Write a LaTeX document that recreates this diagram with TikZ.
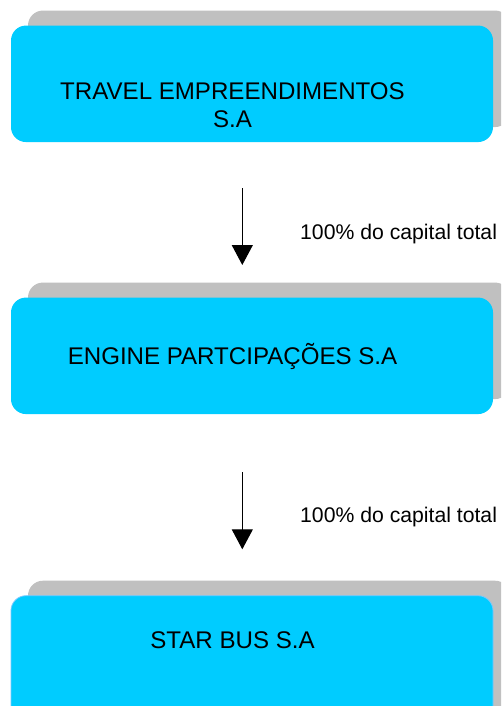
\documentclass[tikz,border=0pt]{standalone}
\usepackage{fontspec}
\setmainfont{Liberation Sans}
\usetikzlibrary{arrows.meta,shadows}
\definecolor{boxfill}{RGB}{0,204,255}
\definecolor{shadowgray}{RGB}{192,192,192}
\definecolor{boxedge}{RGB}{120,200,255}
\begin{document}
\begin{tikzpicture}[x=1pt,y=-1pt,
  company/.style={rectangle, rounded corners=15pt, fill=boxfill,
    minimum width=482pt, minimum height=116.5pt, inner sep=0pt,
    general shadow={shadow xshift=17pt, shadow yshift=15pt, fill=shadowgray}},
  boxtext/.style={font=\fontsize{24.1}{27.7}\selectfont, align=center, inner sep=0pt},
  sharelabel/.style={font=\fontsize{21.2}{25}\selectfont, anchor=base west, inner sep=0pt},
  holding/.style={line width=1.2pt, -{Triangle[width=21pt,length=20pt]}}]
  \clip (0,0) rectangle (501,706);
  \fill[white] (0,0) rectangle (501,706);

  % company boxes
  \node[company] (travel) at (252,83.8) {};
  \node[company] (engine) at (252,355.8) {};
  \node[company, draw=boxedge, line width=0.8pt, minimum height=130pt] (star) at (252,660.7) {};

  % names inside the boxes (base anchor sits on the last line)
  \node[boxtext, anchor=base] (traveltxt) at (232.5,127.7) {TRAVEL EMPREENDIMENTOS\\S.A};
  \node[boxtext, anchor=base] (enginetxt) at (232.5,364.3) {ENGINE PARTCIPAÇÕES S.A};
  \node[boxtext, anchor=base] (startxt) at (232.5,648.3) {STAR BUS S.A};

  % ownership arrows
  \coordinate (a1top) at (242.3,188.3);
  \coordinate (a1tip) at (242.3,265);
  \coordinate (a2top) at (242.3,472.3);
  \coordinate (a2tip) at (242.3,549.3);
  \draw[holding] (a1top) -- (a1tip);
  \draw[holding] (a2top) -- (a2tip);

  \node[sharelabel] (share1) at (300,239) {100\% do capital total};
  \node[sharelabel] (share2) at (300,522.7) {100\% do capital total};
\end{tikzpicture}
\end{document}
